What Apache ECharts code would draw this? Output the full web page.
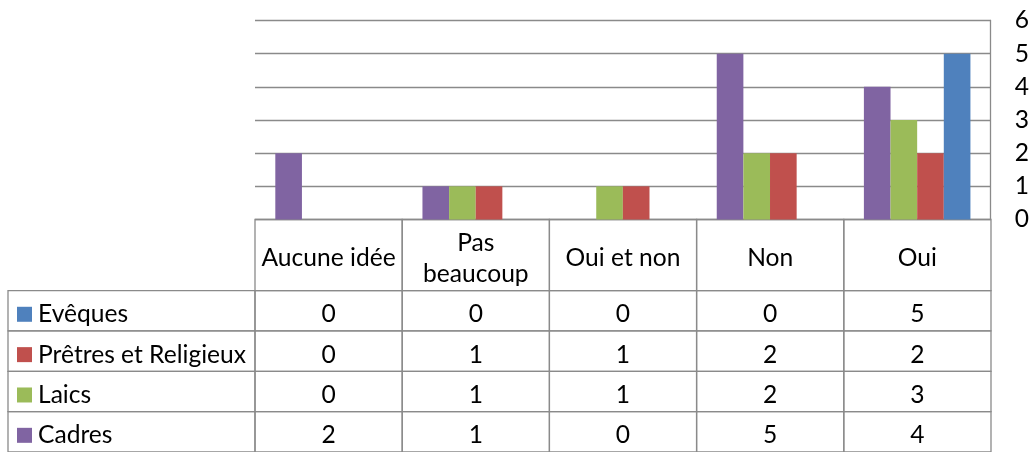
<!DOCTYPE html>
<html><head><meta charset="utf-8">
<script src="https://cdn.jsdelivr.net/npm/echarts@6/dist/echarts.min.js"></script>
<style>html,body{margin:0;padding:0;background:#fff}#c{width:1032px;height:452px}</style>
</head><body><div id="c"></div>
<script>
const categories = ['Aucune idée', 'Pas\nbeaucoup', 'Oui et non', 'Non', 'Oui'];
const seriesNames = ['Cadres', 'Laics', 'Prêtres et Religieux', 'Evêques'];
const cadres = [2, 1, 0, 5, 4];
const laics = [0, 1, 1, 2, 3];
const pretres = [0, 1, 1, 2, 2];
const eveques = [0, 0, 0, 0, 5];
const yTicks = [0, 1, 2, 3, 4, 5, 6];

const colors = ['#8064A2', '#9BBB59', '#C0504D', '#4F81BD'];
const values = [cadres, laics, pretres, eveques];
const tableOrder = [3, 2, 1, 0]; // table rows, top to bottom

const FONT = 'Lato';
const FS = 24.6;
const LINE = '#8a8a8a';
const LW = 1.3;
const TY = 3.5;

const W = 1032;
const plotL = 255, plotR = 41, plotT = 20.5, plotBot = 219.5;
const headerH = 73.5, rowH = 41.7, tableL = 8;
const catW = (W - plotL - plotR) / categories.length;
const legCols = (plotL - tableL) / catW;
const tableH = headerH + tableOrder.length * rowH;

const cells = [];
for (let c = 0; c < categories.length; c++) cells.push([c, -1]);
for (let r = 0; r < tableOrder.length; r++) {
  cells.push([-1, r]);
  for (let c = 0; c < categories.length; c++) cells.push([c, r]);
}

function renderCell(params, api) {
  const col = api.value(0), row = api.value(1);
  const x0 = col === -1 ? -legCols : col;
  const x1 = col === -1 ? 0 : col + 1;
  const y0 = row === -1 ? 0 : headerH + row * rowH;
  const y1 = row === -1 ? headerH : y0 + rowH;
  const p0 = api.coord([x0, y0]);
  const p1 = api.coord([x1, y1]);
  const children = [{
    type: 'rect',
    shape: { x: p0[0], y: p0[1], width: p1[0] - p0[0], height: p1[1] - p0[1] },
    style: { fill: 'none', stroke: LINE, lineWidth: LW }
  }];
  const cy = (p0[1] + p1[1]) / 2 + TY;
  if (col === -1) {
    const si = tableOrder[row];
    children.push({
      type: 'text',
      style: {
        text: '{sq|}{t|' + seriesNames[si] + '}',
        x: p0[0] + 9, y: cy, align: 'left', verticalAlign: 'middle',
        rich: {
          sq: { width: 15, height: 15, backgroundColor: colors[si] },
          t: { fontFamily: FONT, fontSize: FS, fill: '#000', color: '#000', padding: [0, 0, 0, 6] }
        }
      }
    });
  } else {
    const txt = row === -1 ? categories[col] : String(values[tableOrder[row]][col]);
    children.push({
      type: 'text',
      style: {
        text: txt, x: (p0[0] + p1[0]) / 2, y: cy, align: 'center', verticalAlign: 'middle',
        fontFamily: FONT, fontSize: FS, fill: '#000', lineHeight: 31
      }
    });
  }
  return { type: 'group', children: children };
}

const chart = echarts.init(document.getElementById('c'), null, { renderer: 'canvas' });
chart.setOption({
  animation: false,
  backgroundColor: '#fff',
  grid: [
    { left: plotL, right: plotR, top: plotT, height: plotBot - plotT },
    { left: tableL, right: plotR, top: plotBot, height: tableH }
  ],
  xAxis: [
    { type: 'category', gridIndex: 0, data: categories,
      axisLine: { show: false }, axisTick: { show: false }, axisLabel: { show: false } },
    { type: 'value', gridIndex: 1, min: -legCols, max: categories.length, show: false }
  ],
  yAxis: [
    { type: 'value', gridIndex: 0, position: 'right', min: yTicks[0], max: yTicks[yTicks.length - 1], interval: 1,
      axisLine: { show: true, lineStyle: { color: LINE, width: LW } },
      axisTick: { show: false },
      axisLabel: { margin: 24, align: 'left', color: '#000', fontFamily: FONT, fontSize: FS, padding: [5, 0, 0, 0] },
      splitLine: { show: true, lineStyle: { color: LINE, width: LW } } },
    { type: 'value', gridIndex: 1, inverse: true, min: 0, max: tableH, show: false }
  ],
  series: values.map((v, i) => ({
    type: 'bar', name: seriesNames[i], data: v, xAxisIndex: 0, yAxisIndex: 0,
    barGap: '0%', barCategoryGap: '27.6%',
    itemStyle: { color: colors[i] }
  })).concat([{
    type: 'custom', xAxisIndex: 1, yAxisIndex: 1, data: cells, renderItem: renderCell, clip: false, silent: true
  }])
});
</script></body></html>
